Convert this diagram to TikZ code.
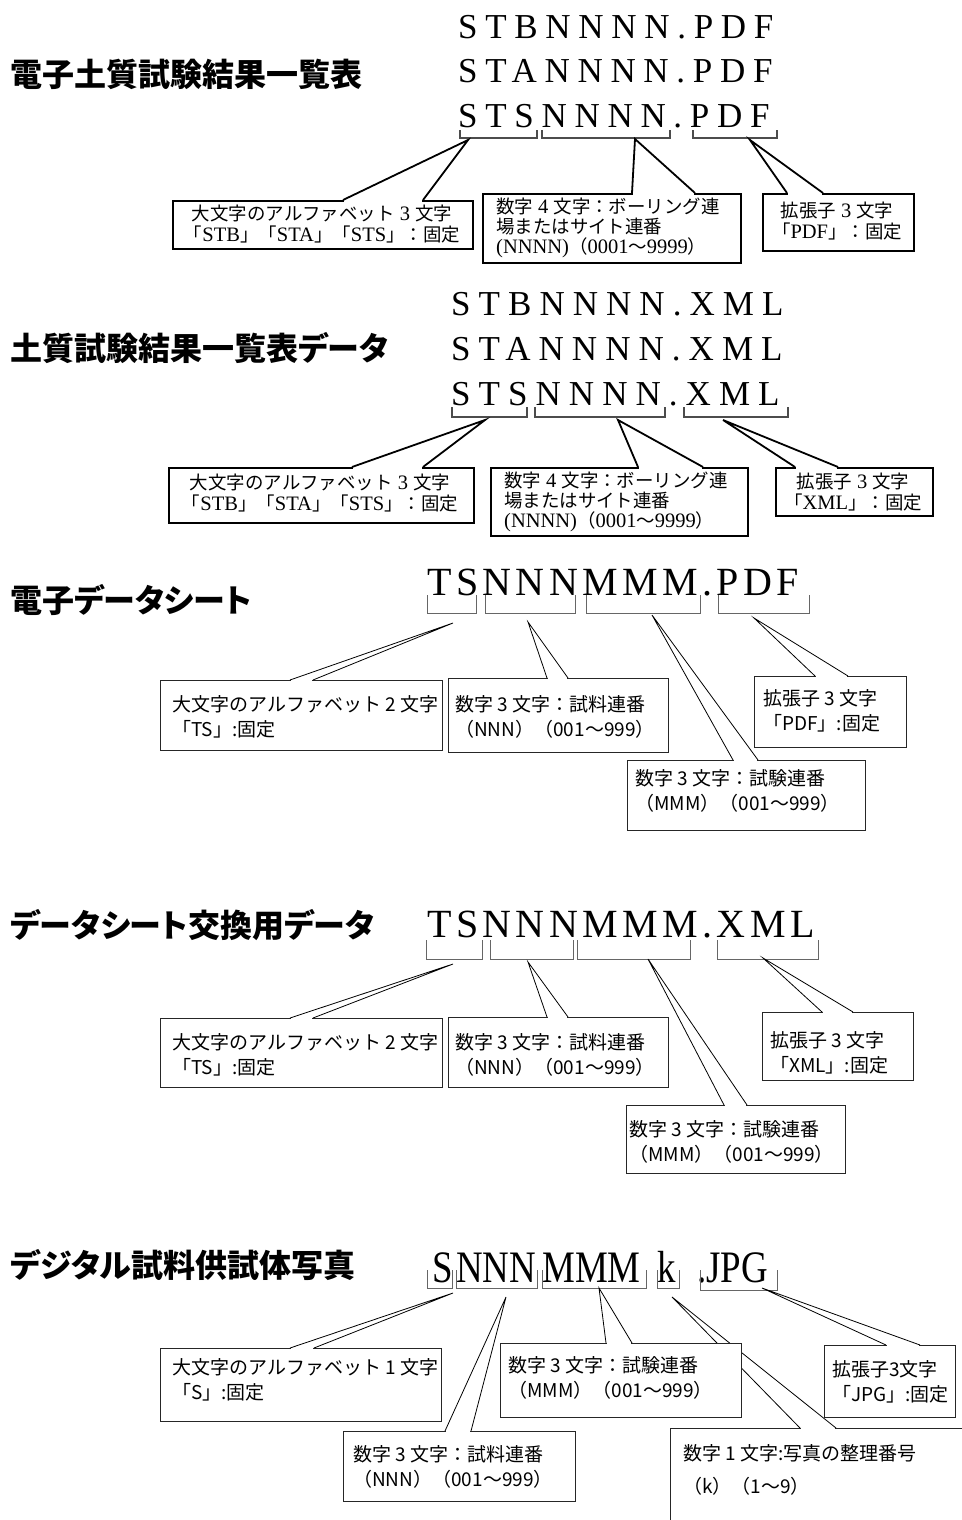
\documentclass[tikz,border=0pt]{standalone}
\usepackage{fontspec}
\setmainfont{Liberation Serif}
\newfontfamily\jp{Noto Sans CJK JP}
\newfontfamily\jps{Noto Sans CJK JP}[Scale=0.9]
\newfontfamily\jpt{Noto Sans CJK JP}[RawFeature=+palt]
\newfontfamily\fnA{Liberation Serif}[LetterSpace=22]
\newfontfamily\fnB{Liberation Serif}[LetterSpace=23]
\newfontfamily\fnC{Liberation Serif}[LetterSpace=11]
\newfontfamily\fnD{Liberation Serif}[FakeStretch=0.82]
\newcommand\cbox[6]{\node[#1, minimum width={#5-#3}, minimum height={#6-#4}] (#2) at (#3,#4) {};}
\newcommand\callptr[5]{\fill[white] ([xshift=1pt,yshift=#5]#2) rectangle ([xshift=-1pt,yshift=-#5]#4); \draw[#1] (#2) -- (#3) -- (#4);}
\begin{document}
\begin{tikzpicture}[x=1pt,y=-1pt,
 title/.style={anchor=west,inner sep=0pt,font=\jpt\bfseries\fontsize{32}{32}\selectfont},
 fA/.style={anchor=base west,inner sep=0pt,font=\fnA\fontsize{35}{35}\selectfont},
 fB/.style={anchor=base west,inner sep=0pt,font=\fnB\fontsize{35}{35}\selectfont},
 fC/.style={anchor=base west,inner sep=0pt,font=\fnC\fontsize{40}{40}\selectfont},
 fD/.style={anchor=base west,inner sep=0pt,font=\fnD\fontsize{45}{45}\selectfont},
 brkA/.style={draw=black!70,line width=1.3pt},
 brkB/.style={draw=black!60,line width=1pt},
 boxA/.style={draw=black,line width=1.8pt,fill=white,inner sep=0pt,anchor=north west},
 boxB/.style={draw=black!85,line width=1pt,fill=white,inner sep=0pt,anchor=north west},
 ptrA/.style={draw=black,line width=1.8pt,line join=miter},
 ptrB/.style={draw=black,line width=0.8pt},
 txtA/.style={inner sep=0pt,align=center,font=\fontsize{20.5}{21}\selectfont},
 txtA3/.style={inner sep=0pt,anchor=west,align=left,font=\fontsize{20.5}{20}\selectfont},
 txtB/.style={inner sep=0pt,anchor=west,align=left,font=\jp\fontsize{19}{25}\selectfont},
]
\useasboundingbox[fill=white] (0,0) rectangle (961,1520);

% ---------- Section 1 ----------
\node[title] (t1) at (10,74) {電子土質試験結果一覧表};
\node[fA] (f1a) at (458,38) {STBNNNN.PDF};
\node[fA] (f1b) at (458,82) {STANNNN.PDF};
\node[fA] (f1c) at (458,127) {STSNNNN.PDF};
\draw[brkA] (460,130) |- (537,138) -- (537,130);
\draw[brkA] (542,130) |- (670,138) -- (670,130);
\draw[brkA] (693,130) |- (777,138) -- (777,130);
\coordinate (tip1a) at (468,140); \coordinate (b1a1) at (343,200); \coordinate (b1a2) at (423,200);
\coordinate (tip1b) at (635,139); \coordinate (b1b1) at (632,193); \coordinate (b1b2) at (695,193);
\coordinate (tip1c) at (750,140); \coordinate (b1c1) at (787,193); \coordinate (b1c2) at (823,193);
\cbox{boxA}{bx1a}{172}{200}{472}{248}
\callptr{ptrA}{b1a1}{tip1a}{b1a2}{2pt}
\cbox{boxA}{bx1b}{482}{193}{740}{262}
\callptr{ptrA}{b1b1}{tip1b}{b1b2}{2pt}
\cbox{boxA}{bx1c}{762}{193}{913}{250}
\callptr{ptrA}{b1c1}{tip1c}{b1c2}{2pt}
\node[txtA] (x1a) at (322,224) {{\jps 大文字のアルファベット} 3 {\jps 文字}\\{\jps 「}STB{\jps 」「}STA{\jps 」「}STS{\jps 」：固定}};
\node[txtA3] (x1b) at (496,228) {{\jps 数字} 4 {\jps 文字：ボーリング連}\\{\jps 場またはサイト連番}\\(NNNN){\jps （}0001{\jps ～}9999{\jps ）}};
\node[txtA] (x1c) at (837,221) {{\jps 拡張子} 3 {\jps 文字}\\{\jps 「}PDF{\jps 」：固定}};

% ---------- Section 2 ----------
\node[title] (t2) at (10,348) {土質試験結果一覧表データ};
\node[fB] (f2a) at (451,315) {STBNNNN.XML};
\node[fB] (f2b) at (451,360) {STANNNN.XML};
\node[fB] (f2c) at (451,405) {STSNNNN.XML};
\draw[brkA] (452,407) |- (527,417) -- (527,407);
\draw[brkA] (535,407) |- (665,417) -- (665,407);
\draw[brkA] (684,407) |- (788,417) -- (788,407);
\coordinate (tip2a) at (485,420); \coordinate (b2a1) at (352,467); \coordinate (b2a2) at (423,467);
\coordinate (tip2b) at (618,420); \coordinate (b2b1) at (638,467); \coordinate (b2b2) at (703,467);
\coordinate (tip2c) at (723,420); \coordinate (b2c1) at (795,467); \coordinate (b2c2) at (838,467);
\cbox{boxA}{bx2a}{168}{467}{473}{522}
\callptr{ptrA}{b2a1}{tip2a}{b2a2}{2pt}
\cbox{boxA}{bx2b}{490}{467}{747}{535}
\callptr{ptrA}{b2b1}{tip2b}{b2b2}{2pt}
\cbox{boxA}{bx2c}{775}{467}{932}{515}
\callptr{ptrA}{b2c1}{tip2c}{b2c2}{2pt}
\node[txtA] (x2a) at (320,493) {{\jps 大文字のアルファベット} 3 {\jps 文字}\\{\jps 「}STB{\jps 」「}STA{\jps 」「}STS{\jps 」：固定}};
\node[txtA3] (x2b) at (504,502) {{\jps 数字} 4 {\jps 文字：ボーリング連}\\{\jps 場またはサイト連番}\\(NNNN){\jps （}0001{\jps ～}9999{\jps ）}};
\node[txtA] (x2c) at (853,492) {{\jps 拡張子} 3 {\jps 文字}\\{\jps 「}XML{\jps 」：固定}};

% ---------- Section 3 ----------
\node[title] (t3) at (10,600) {電子データシート};
\node[fC] (f3) at (427,595) {TSNNNMMM.PDF};
\draw[brkB] (427,595) |- (476,613) -- (476,595);
\draw[brkB] (485,595) |- (575,613) -- (575,595);
\draw[brkB] (586,595) |- (700,613) -- (700,595);
\draw[brkB] (718,595) |- (809,613) -- (809,595);
\coordinate (tip3a) at (453,623); \coordinate (b3a1) at (290,680); \coordinate (b3a2) at (313,680);
\coordinate (tip3b) at (528,622); \coordinate (b3b1) at (547,678); \coordinate (b3b2) at (568,678);
\coordinate (tip3c) at (652,615); \coordinate (b3c1) at (733,760); \coordinate (b3c2) at (758,760);
\coordinate (tip3d) at (754,618); \coordinate (b3d1) at (815,676); \coordinate (b3d2) at (848,676);
\cbox{boxB}{bx3a}{160}{680}{442}{750}
\callptr{ptrB}{b3a1}{tip3a}{b3a2}{1.3pt}
\cbox{boxB}{bx3b}{448}{678}{668}{752}
\callptr{ptrB}{b3b1}{tip3b}{b3b2}{1.3pt}
\cbox{boxB}{bx3c}{627}{760}{865}{830}
\callptr{ptrB}{b3c1}{tip3c}{b3c2}{1.3pt}
\cbox{boxB}{bx3d}{754}{676}{906}{747}
\callptr{ptrB}{b3d1}{tip3d}{b3d2}{1.3pt}
\node[txtB] (x3a) at (172,717) {大文字のアルファベット 2 文字\\「TS」:固定};
\node[txtB] (x3b) at (455,717) {数字 3 文字：試料連番\\（NNN）（001～999）};
\node[txtB] (x3c) at (635,791) {数字 3 文字：試験連番\\（MMM）（001～999）};
\node[txtB] (x3d) at (763,711) {拡張子 3 文字\\「PDF」:固定};

% ---------- Section 4 ----------
\node[title] (t4) at (10,925) {データシート交換用データ};
\node[fC] (f4) at (427,937) {TSNNNMMM.XML};
\draw[brkB] (426,940) |- (482,959) -- (482,940);
\draw[brkB] (490,940) |- (573,959) -- (573,940);
\draw[brkB] (577,940) |- (690,959) -- (690,940);
\draw[brkB] (717,940) |- (818,959) -- (818,940);
\coordinate (tip4a) at (453,964); \coordinate (b4a1) at (290,1018); \coordinate (b4a2) at (313,1018);
\coordinate (tip4b) at (528,962); \coordinate (b4b1) at (547,1017); \coordinate (b4b2) at (568,1017);
\coordinate (tip4c) at (648,959); \coordinate (b4c1) at (724,1105); \coordinate (b4c2) at (747,1105);
\coordinate (tip4d) at (763,958); \coordinate (b4d1) at (822,1012); \coordinate (b4d2) at (853,1012);
\cbox{boxB}{bx4a}{160}{1018}{442}{1087}
\callptr{ptrB}{b4a1}{tip4a}{b4a2}{1.3pt}
\cbox{boxB}{bx4b}{448}{1017}{668}{1087}
\callptr{ptrB}{b4b1}{tip4b}{b4b2}{1.3pt}
\cbox{boxB}{bx4c}{626}{1105}{845}{1173}
\callptr{ptrB}{b4c1}{tip4c}{b4c2}{1.3pt}
\cbox{boxB}{bx4d}{762}{1012}{913}{1080}
\callptr{ptrB}{b4d1}{tip4d}{b4d2}{1.3pt}
\node[txtB] (x4a) at (172,1055) {大文字のアルファベット 2 文字\\「TS」:固定};
\node[txtB] (x4b) at (455,1055) {数字 3 文字：試料連番\\（NNN）（001～999）};
\node[txtB] (x4c) at (629,1142) {数字 3 文字：試験連番\\（MMM）（001～999）};
\node[txtB] (x4d) at (770,1053) {拡張子 3 文字\\「XML」:固定};

% ---------- Section 5 ----------
\node[title] (t5) at (10,1265) {デジタル試料供試体写真};
\node[fD] (f5s) at (432,1282) {S};
\node[fD] (f5n) at (456,1282) {NNN};
\node[fD] (f5m) at (542,1282) {MMM};
\node[fD] (f5k) at (657,1282) {k};
\node[fD] (f5j) at (697,1282) {.JPG};
\draw[brkB] (427,1270) |- (452,1288) -- (452,1270);
\draw[brkB] (456,1270) |- (537,1288) -- (537,1270);
\draw[brkB] (542,1270) |- (646,1288) -- (646,1270);
\draw[brkB] (657,1270) |- (679,1288) -- (679,1270);
\draw[brkB] (700,1270) |- (777,1290) -- (777,1270);
\coordinate (tip5a) at (453,1293); \coordinate (b5a1) at (290,1348); \coordinate (b5a2) at (314,1348);
\coordinate (tip5b) at (599,1288); \coordinate (b5b1) at (606,1343); \coordinate (b5b2) at (632,1343);
\coordinate (tip5e) at (762,1288); \coordinate (b5e1) at (886,1345); \coordinate (b5e2) at (920,1345);
\coordinate (tip5d) at (506,1297); \coordinate (b5d1) at (445,1431); \coordinate (b5d2) at (471,1431);
\coordinate (tip5f) at (672,1297); \coordinate (b5f1) at (800,1428); \coordinate (b5f2) at (836,1428);
\cbox{boxB}{bx5f}{670}{1428}{990}{1560}
\callptr{ptrB}{b5f1}{tip5f}{b5f2}{1.3pt}
\cbox{boxB}{bx5a}{160}{1348}{441}{1421}
\callptr{ptrB}{b5a1}{tip5a}{b5a2}{1.3pt}
\cbox{boxB}{bx5b}{500}{1343}{741}{1417}
\callptr{ptrB}{b5b1}{tip5b}{b5b2}{1.3pt}
\cbox{boxB}{bx5e}{824}{1345}{955}{1417}
\callptr{ptrB}{b5e1}{tip5e}{b5e2}{1.3pt}
\cbox{boxB}{bx5d}{343}{1431}{575}{1501}
\callptr{ptrB}{b5d1}{tip5d}{b5d2}{1.3pt}
\node[txtB] (x5a) at (172,1380) {大文字のアルファベット 1 文字\\「S」:固定};
\node[txtB] (x5b) at (508,1378) {数字 3 文字：試験連番\\（MMM）（001～999）};
\node[txtB] (x5e) at (832,1382) {拡張子3文字\\「JPG」:固定};
\node[txtB] (x5d) at (353,1467) {数字 3 文字：試料連番\\（NNN）（001～999）};
\node[txtB,font=\jp\fontsize{19}{33}\selectfont] (x5f) at (683,1470) {数字 1 文字:写真の整理番号\\（k）（1～9）};
\end{tikzpicture}
\end{document}
